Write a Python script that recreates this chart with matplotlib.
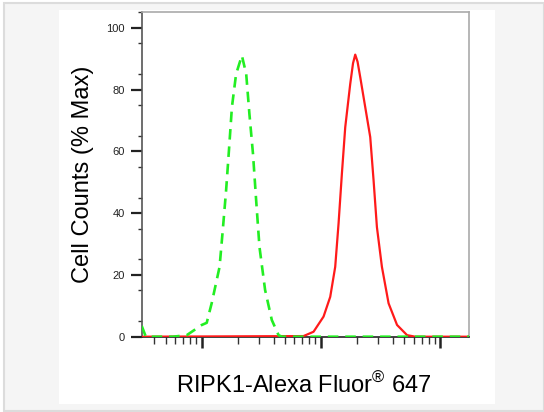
import matplotlib
matplotlib.use('Agg')
import matplotlib.pyplot as plt
from matplotlib.patches import Rectangle

plt.rcParams['font.family'] = ['Liberation Sans', 'DejaVu Sans']
plt.rcParams['mathtext.fontset'] = 'custom'
plt.rcParams['mathtext.rm'] = 'Liberation Sans'

# Isotype control (green dashed) - intensity vs % max
ctrl_x = [31.3, 33.9, 57.4, 74.8, 90.8, 100, 110, 117, 121, 141, 150, 160, 169, 179,
          194, 217, 236, 251, 269, 286, 305, 340, 387, 441, 470, 17500]
ctrl_y = [3.5, 0, 0, 0.5, 2.7, 3.8, 4.5, 8.6, 10.8, 22.6, 34.5, 47.4, 60.3, 74.3,
          85.0, 91.0, 85.0, 72.1, 59.2, 44.1, 29.0, 15.1, 5.4, 0.5, 0, 0]

# RIPK1 stained sample (red solid)
ripk1_x = [31.3, 714, 867, 1052, 1197, 1318, 1406, 1500, 1600, 1762, 1860, 1941,
           2030, 2138, 2355, 2594, 2767, 2951, 3251, 3698, 4355, 5284, 6194, 17500]
ripk1_y = [0, 0.2, 1.6, 6.5, 12.9, 22.6, 36.6, 52.8, 67.8, 81.8, 88.5, 91.3,
           89.0, 84.0, 74.3, 64.6, 50.6, 35.5, 22.6, 10.8, 3.8, 0.5, 0, 0]

y_ticks = [0, 20, 40, 60, 80, 100]

W, H = 544, 412
fig = plt.figure(figsize=(W / 100, H / 100), dpi=100, facecolor='white')

# page background + white panel
fig.patches.append(Rectangle((4 / W, 1 - 410.5 / H), (W - 4) / W, 408 / H,
                             transform=fig.transFigure, facecolor='#f5f5f5',
                             edgecolor='#dcdcdc', linewidth=1.5, zorder=-10))
fig.patches.append(Rectangle((59 / W, 1 - 404 / H), 436 / W, 394 / H,
                             transform=fig.transFigure, facecolor='white',
                             edgecolor='none', zorder=-9))

ax = fig.add_axes([141.7 / W, 1 - 336.7 / H, 327.3 / W, 324.4 / H])
ax.set_facecolor('white')

ax.plot(ripk1_x, ripk1_y, color='#ff1a1a', lw=1.6, zorder=3)
ax.plot(ctrl_x, ctrl_y, color='#22ee22', lw=1.9, dashes=(4, 2.6), zorder=4)

ax.set_xscale('log')
ax.set_xlim(31.3, 17500)
ax.set_ylim(0, 105)

ax.set_yticks(y_ticks)
ax.set_yticks(range(5, 106, 10), minor=True)
ax.set_yticklabels([str(v) for v in y_ticks], fontsize=8, color='#222222')
ax.set_xticklabels([], minor=True)
ax.set_xticklabels([])

ax.tick_params(axis='y', which='major', length=8, width=1.6, color='#222222', pad=4)
ax.tick_params(axis='y', which='minor', length=3, width=1.0, color='#333333')
ax.tick_params(axis='x', which='major', length=8, width=1.8, color='#222222')
ax.tick_params(axis='x', which='minor', length=5, width=1.0, color='#333333')

ax.spines['left'].set_color('#555555')
ax.spines['bottom'].set_color('#222222')
ax.spines['top'].set_color('#aaaaaa')
ax.spines['right'].set_color('#aaaaaa')
for s in ax.spines.values():
    s.set_linewidth(1.2)

ax.set_ylabel('Cell Counts (% Max)', fontsize=17, va='center')
ax.yaxis.set_label_coords(-0.178, 0.5)
ax.set_xlabel('RIPK1-Alexa Fluor$^{\\mathrm{®}}$ 647', fontsize=17, va='center')
ax.xaxis.set_label_coords(0.494, -0.148)

fig.savefig('out.png', dpi=100, facecolor=fig.get_facecolor())
